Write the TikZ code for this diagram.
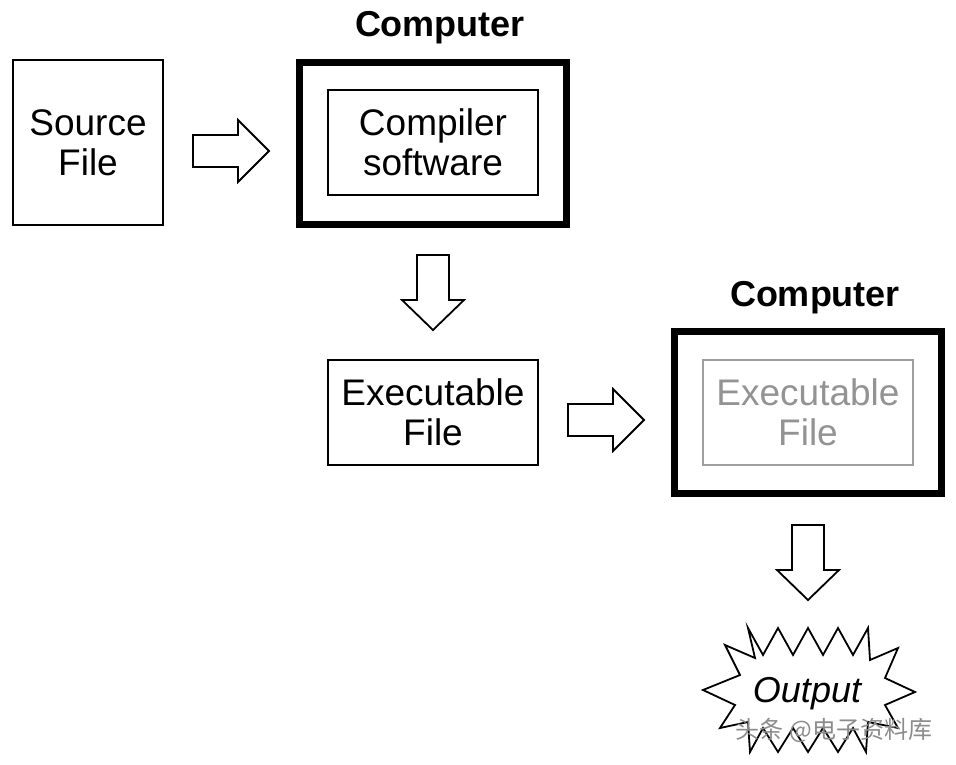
\documentclass[tikz,border=0pt]{standalone}
\usepackage{fontspec}
\setmainfont{Liberation Sans}
\newfontfamily\cjkfont{Noto Sans CJK SC}
\usetikzlibrary{arrows.meta, positioning, calc}

\tikzset{
  filebox/.style={draw, line width=1.6pt, minimum width=210pt, minimum height=105pt, align=center, inner sep=0pt, font=\fontsize{37}{40}\selectfont},
  machine/.style={draw, line width=7pt, minimum width=267pt, minimum height=162pt, inner sep=0pt},
  machinelabel/.style={anchor=base, font=\fontsize{36}{40}\selectfont\bfseries},
  blockarrow/.style={draw, line width=1.8pt, fill=white, line join=miter},
  rightarrow/.pic={\draw[blockarrow] (-38,-16) -- (7,-16) -- (7,-31) -- (38,0) -- (7,31) -- (7,16) -- (-38,16) -- cycle;},
  downarrow/.pic={\draw[blockarrow] (-16,-37.5) -- (16,-37.5) -- (16,7.5) -- (31,7.5) -- (0,37.5) -- (-31,7.5) -- (-16,7.5) -- cycle;},
}

\begin{document}
\begin{tikzpicture}[x=1pt, y=-1pt]
        \useasboundingbox[fill=white] (0,0) rectangle (956,764);

        % first machine: compiling
        \node[filebox, minimum width=150pt, minimum height=165pt] (src) at (88,142.5) {Source\\File};
        \node[machine] (comp1) at (433,143) {};
        \node[filebox] (compiler) at (433,142.5) {Compiler\\software};
        \node[machinelabel] (lbl1) at (440,36) {Computer};

        \pic (arr1) at (231,151) {rightarrow};
        \pic (arr2) at (433,292.5) {downarrow};

        % second machine: running
        \node[filebox] (exe) at (433,412.5) {Executable\\File};
        \node[machine] (comp2) at (808,412.5) {};
        \node[filebox, draw=gray!75, text=gray!85] (exe2) at (808,412.5) {Executable\\File};
        \node[machinelabel] (lbl2) at (815,306) {Computer};

        \pic (arr3) at (606,420) {rightarrow};
        \pic (arr4) at (808,562.5) {downarrow};

        % result
        \draw[line width=1.8pt, line join=miter] (703,690) -- (740,675) -- (725,645) -- (755,658)
          -- (748,628) -- (763,655) -- (778,628) -- (793,655) -- (808,628) -- (823,655)
          -- (838,628) -- (853,655) -- (868,628) -- (870,660) -- (898,648) -- (885,678)
          -- (915,692) -- (885,705) -- (898,728) -- (868,722) -- (866,752) -- (853,728)
          -- (838,752) -- (823,728) -- (808,752) -- (793,728) -- (778,752) -- (763,728)
          -- (750,752) -- (748,722) -- (720,728) -- (735,705) -- cycle;
        \node[anchor=base, font=\fontsize{36}{40}\selectfont\itshape] (out) at (807,702) {Output};

        \node[text=gray!90, font=\cjkfont\fontsize{24}{26}\selectfont] (mark) at (834,730) {头条 @电子资料库};
      \end{tikzpicture}
\end{document}
